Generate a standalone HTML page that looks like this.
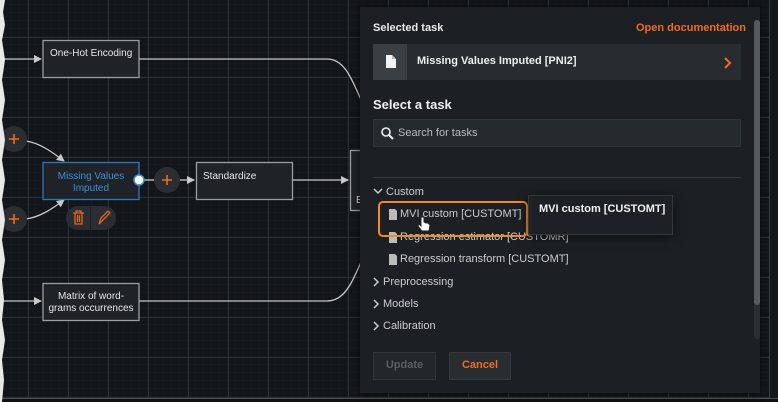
<!DOCTYPE html>
<html><head><meta charset="utf-8"><style>
*{margin:0;padding:0;box-sizing:border-box}
body{width:778px;height:402px;overflow:hidden;background:#121519;font-family:"Liberation Sans",sans-serif;position:relative}
.abs{position:absolute}
.panel{left:360px;top:7px;width:400px;height:386px;background:#1c2024;box-shadow:0 0 8px rgba(0,0,0,.6)}
.t{position:absolute;white-space:nowrap}
</style></head><body>
<svg class="abs" style="left:0;top:0" width="778" height="402">
<defs>
<pattern id="mi" width="8" height="8" patternUnits="userSpaceOnUse" x="4" y="5"><path d="M8 0V8M0 8H8" stroke="#191d21" stroke-width="1" fill="none"/></pattern>
<pattern id="ma" width="40" height="40" patternUnits="userSpaceOnUse" x="28" y="37"><path d="M0.5 0V40M0 0.5H40" stroke="#2b3035" stroke-width="1" fill="none"/></pattern>
<marker id="ar" markerWidth="8" markerHeight="8" refX="7" refY="4" orient="auto" markerUnits="userSpaceOnUse"><path d="M0 0L8 4L0 8z" fill="#c8c8c8"/></marker>
</defs>
<rect width="778" height="402" fill="#121519"/>
<rect width="778" height="402" fill="url(#mi)"/>
<rect width="778" height="402" fill="url(#ma)"/>
<rect x="0" y="398" width="778" height="1" fill="#4a4e52"/>
<rect x="0" y="399" width="778" height="3" fill="#0e1012"/>
<rect x="769" y="0" width="1" height="398" fill="#3a3e42"/>
<rect x="770" y="0" width="8" height="398" fill="#15181b"/>
<g stroke="#c8c8c8" stroke-width="1.3" fill="none">
<path d="M0 59H41" marker-end="url(#ar)"/>
<path d="M0 301H41" marker-end="url(#ar)"/>
<path d="M139 59H327C345 59 352 80 362 102"/>
<path d="M139 301H327C345 301 352 282 362 260"/>
<path d="M292 180H348" marker-end="url(#ar)"/>
<path d="M26 141C40 143 52 152 64 161" marker-end="url(#ar)"/>
<path d="M26 219C40 217 52 209 64 200" marker-end="url(#ar)"/>
<path d="M144 180H156"/><path d="M179 180H194" marker-end="url(#ar)"/>
</g>
<g fill="#1f2328" stroke="#9a9ea2" stroke-width="1.3">
<rect x="43" y="40.5" width="96" height="37"/>
<rect x="196.5" y="162.5" width="96" height="37"/>
<rect x="43" y="283.5" width="96" height="37"/>
<rect x="350.5" y="150.5" width="20" height="60"/>
</g>
<rect x="43" y="162.5" width="96" height="37" fill="#1f2328" stroke="#2d78b8" stroke-width="1.3"/>
<g fill="#2a2e33"><circle cx="14" cy="139" r="13"/><circle cx="14" cy="219" r="13"/><circle cx="167" cy="180" r="13"/><rect x="66" y="206" width="50" height="24" rx="12"/></g>
<rect x="90" y="207" width="1" height="22" fill="#1b1e22"/>
<g stroke="#f26b1d" stroke-width="1.6"><path d="M9 139H19M14 134V144"/><path d="M9 219H19M14 214V224"/><path d="M162 180H172M167 175V185"/></g>
<g stroke="#e0661c" stroke-width="1.3" fill="none"><path d="M73 213H84M76 213V211H81V213M75 213V224H82V213M77.5 215V222M79.5 215V222"/><path d="M99 224L101 218L108 211L110 213L103 220Z M99 224L103 220"/></g>
<circle cx="139" cy="180" r="5" fill="#fff" stroke="#3a8fd6" stroke-width="1.5"/>
<path d="M0 0H5L3 12L5 25L2 40L5 60L2 80L5 100L2 120L5 140L2 160L5 180L2 200L5 220L2 240L5 260L2 280L4 300L2 320L5 340L2 360L4 380L2 402H0Z" fill="#e8e8e8"/>
</svg>
<div class="t" style="left:50px;top:48px;font-size:10px;color:#e6e6e6">One-Hot Encoding</div>
<div class="t" style="left:43px;top:171px;width:96px;text-align:center;font-size:10px;color:#3a8fd6;line-height:12px;white-space:normal">Missing Values<br>Imputed</div>
<div class="t" style="left:203px;top:171px;font-size:10px;color:#e6e6e6">Standardize</div>
<div class="t" style="left:43px;top:291px;width:96px;text-align:center;font-size:10px;color:#e6e6e6;line-height:12px">Matrix of word-<br>grams occurrences</div>
<div class="abs" style="left:356px;top:195px;font-size:10px;color:#ddd">E</div>

<div class="abs panel"></div>
<div class="t" style="left:373px;top:22px;font-size:11px;font-weight:bold;color:#e8e8e8">Selected task</div>
<div class="t" style="left:636px;top:22px;font-size:11px;font-weight:bold;color:#f26b1d">Open documentation</div>
<div class="abs" style="left:373px;top:44px;width:368px;height:36px;background:#272c31"></div>
<div class="abs" style="left:373px;top:44px;width:34px;height:36px;background:#3a3f44"></div>
<svg class="abs" style="left:385px;top:55px" width="12" height="14"><path d="M1 0H7L11 4V13H1Z" fill="#f2f2f2"/><path d="M7 0V4H11" fill="#bbb"/></svg>
<div class="t" style="left:417px;top:55px;font-size:11px;font-weight:bold;color:#eee">Missing Values Imputed [PNI2]</div>
<svg class="abs" style="left:723px;top:57px" width="10" height="12"><path d="M2 1L7 6L2 11" stroke="#f26b1d" stroke-width="2" fill="none"/></svg>
<div class="t" style="left:373px;top:97px;font-size:13px;font-weight:bold;color:#eee">Select a task</div>
<div class="abs" style="left:373px;top:119px;width:368px;height:28px;background:#252a2f;border:1px solid #30353a"></div>
<svg class="abs" style="left:381px;top:127px" width="13" height="13"><circle cx="5" cy="5" r="4" stroke="#eee" stroke-width="1.6" fill="none"/><path d="M8 8L12 12" stroke="#eee" stroke-width="2"/></svg>
<div class="t" style="left:398px;top:127px;font-size:11px;color:#bbb">Search for tasks</div>
<div class="abs" style="left:373px;top:177px;width:368px;height:1px;background:#33383d"></div>
<svg class="abs" style="left:373px;top:188px" width="10" height="8"><path d="M1 1L5 5L9 1" stroke="#ccc" stroke-width="1.5" fill="none"/></svg>
<div class="t" style="left:386px;top:186px;font-size:11px;color:#ccc">Custom</div>
<div class="t" style="left:400px;top:208px;font-size:11px;color:#ccc">MVI custom [CUSTOMT]</div>
<div class="t" style="left:400px;top:231px;font-size:11px;color:#ccc">Regression estimator [CUSTOMR]</div>
<div class="t" style="left:400px;top:253px;font-size:11px;color:#ccc">Regression transform [CUSTOMT]</div>
<svg class="abs" style="left:389px;top:209px" width="9" height="60"><g fill="#bbb"><path d="M0 0H6L8 2V11H0Z"/><path d="M0 23H6L8 25V34H0Z"/><path d="M0 45H6L8 47V56H0Z"/></g></svg>
<div class="abs" style="left:378px;top:201px;width:150px;height:36px;border:2px solid #f58a1f;border-radius:5px"></div>
<svg class="abs" style="left:417px;top:216px" width="14" height="16"><path d="M4 1V10L2 8L1 10L5 15H12L13 9L11 7L9 7L7 6V1Z" fill="#fff" stroke="#222" stroke-width="1"/></svg>
<div class="abs" style="left:528px;top:195px;width:145px;height:40px;background:#1d2125;border:1px solid #33383d;box-shadow:0 2px 10px rgba(0,0,0,.6)"></div>
<div class="t" style="left:539px;top:203px;font-size:11px;font-weight:bold;color:#f0f0f0">MVI custom [CUSTOMT]</div>
<svg class="abs" style="left:373px;top:277px" width="8" height="60"><g stroke="#ccc" stroke-width="1.5" fill="none"><path d="M1 1L5 5L1 9"/><path d="M1 23L5 27L1 31"/><path d="M1 45L5 49L1 53"/></g></svg>
<div class="t" style="left:383px;top:276px;font-size:11px;color:#ccc">Preprocessing</div>
<div class="t" style="left:383px;top:298px;font-size:11px;color:#ccc">Models</div>
<div class="t" style="left:383px;top:320px;font-size:11px;color:#ccc">Calibration</div>
<div class="abs" style="left:373px;top:352px;width:63px;height:28px;background:#22272b;border:1px solid #30353a"></div>
<div class="t" style="left:373px;top:359px;width:63px;text-align:center;font-size:11px;font-weight:bold;color:#5a5f64">Update</div>
<div class="abs" style="left:449px;top:352px;width:62px;height:28px;background:#282d32;border:1px solid #34393e"></div>
<div class="t" style="left:449px;top:359px;width:62px;text-align:center;font-size:11px;font-weight:bold;color:#f26b1d">Cancel</div>
<div class="abs" style="left:754px;top:20px;width:6px;height:319px;background:#2a2e32;border-radius:3px"></div>
<div class="abs" style="left:754px;top:20px;width:6px;height:285px;background:#555a5f;border-radius:3px"></div>
</body></html>
